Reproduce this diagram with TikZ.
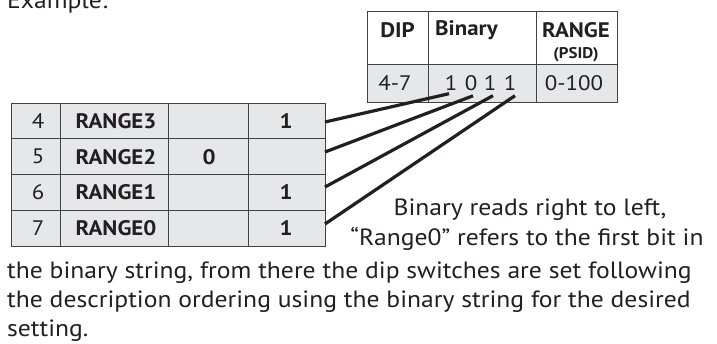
\documentclass[tikz,border=0pt]{standalone}
\usepackage{fontspec}
\setmainfont[FakeStretch=1.09]{PT Sans}
\usetikzlibrary{positioning}
\definecolor{cellgray}{HTML}{E6E7E8}
\definecolor{ink}{HTML}{231F20}

\begin{document}
\begin{tikzpicture}[x=1pt,y=-1pt]
	\tikzstyle{every node}=[font=\fontsize{21}{25}\selectfont, text=ink, inner sep=0pt]
	\tikzstyle{bold}=[font=\fontsize{21}{25}\selectfont\bfseries]
	\tikzstyle{txt}=[font=\fontsize{23.5}{28}\selectfont, anchor=base west]
	\tikzstyle{grid}=[line width=0.8pt, draw=ink!85]
	\tikzstyle{wire}=[line width=3.2pt, draw=ink]
	\useasboundingbox (0,0) rectangle (717,344);
	\node [txt] (title) at (7,9) {Example:};
	% top table
	\fill [cellgray] (367,64) rectangle (617,102);
	\draw [grid] (367,11) rectangle (617,102);
	\draw [grid] (367,64) -- (617,64);
	\draw [grid] (428,11) -- (428,102);
	\draw [grid] (536,11) -- (536,102);
	\node [bold] (hdip) at (397.5,30) {DIP};
	\node [bold, anchor=west] (hbin) at (435,30) {Binary};
	\node [bold] (hrange) at (576,30) {RANGE};
	\node [font=\fontsize{15.5}{18}\selectfont\bfseries] (hpsid) at (576,55) {(PSID)};
	\node (dip) at (395,83) {4-7};
	\node (b3) at (451,83) {1};
	\node (b2) at (471,83) {0};
	\node (b1) at (490,83) {1};
	\node (b0) at (510,83) {1};
	\node (range) at (574,83) {0-100};
	% left table
	\fill [cellgray] (11,103) rectangle (325,246);
	\draw [grid] (11,103) rectangle (325,246);
	\foreach \y in {138.75,174.5,210.25}
		\draw [grid] (11,\y) -- (325,\y);
	\foreach \x in {60,168,248}
		\draw [grid] (\x,103) -- (\x,246);
	\foreach \n/\name/\z/\o [count=\i from 0] in {4/RANGE3//1, 5/RANGE2/0/, 6/RANGE1//1, 7/RANGE0//1} {
		\node (n\n) at (38,121+35.75*\i) {\n};
		\node [bold] (r\n) at (116,121+35.75*\i) {\name};
		\node [bold] (z\n) at (209,121+35.75*\i) {\z};
		\node [bold] (o\n) at (286,121+35.75*\i) {\o};
	}
	% wires from the rows to the bits
	\coordinate (s4) at (325,122);
	\coordinate (s5) at (325,152);
	\coordinate (s6) at (325,187);
	\coordinate (s7) at (325,224);
	\coordinate (e3) at ([xshift=-2pt,yshift=-3pt]b3.south);
	\coordinate (e2) at ([xshift=2pt,yshift=-5pt]b2.south);
	\coordinate (e1) at ([xshift=3pt,yshift=-5pt]b1.south);
	\coordinate (e0) at ([xshift=5pt,yshift=-5pt]b0.south);
	\draw [wire] (s4) -- (e3);
	\draw [wire] (s5) -- (e2);
	\draw [wire] (s6) -- (e1);
	\draw [wire] (s7) -- (e0);
	% note
	\node [txt, anchor=base] (p1) at (530,216) {Binary reads right to left,};
	\node [txt, anchor=base] (p2) at (527,246) {“Range0” refers to the first bit in};
	\node [txt] (p3) at (7,279) {the binary string, from there the dip switches are set following};
	\node [txt] (p4) at (7,308) {the description ordering using the binary string for the desired};
	\node [txt] (p5) at (7,337) {setting.};
\end{tikzpicture}
\end{document}
